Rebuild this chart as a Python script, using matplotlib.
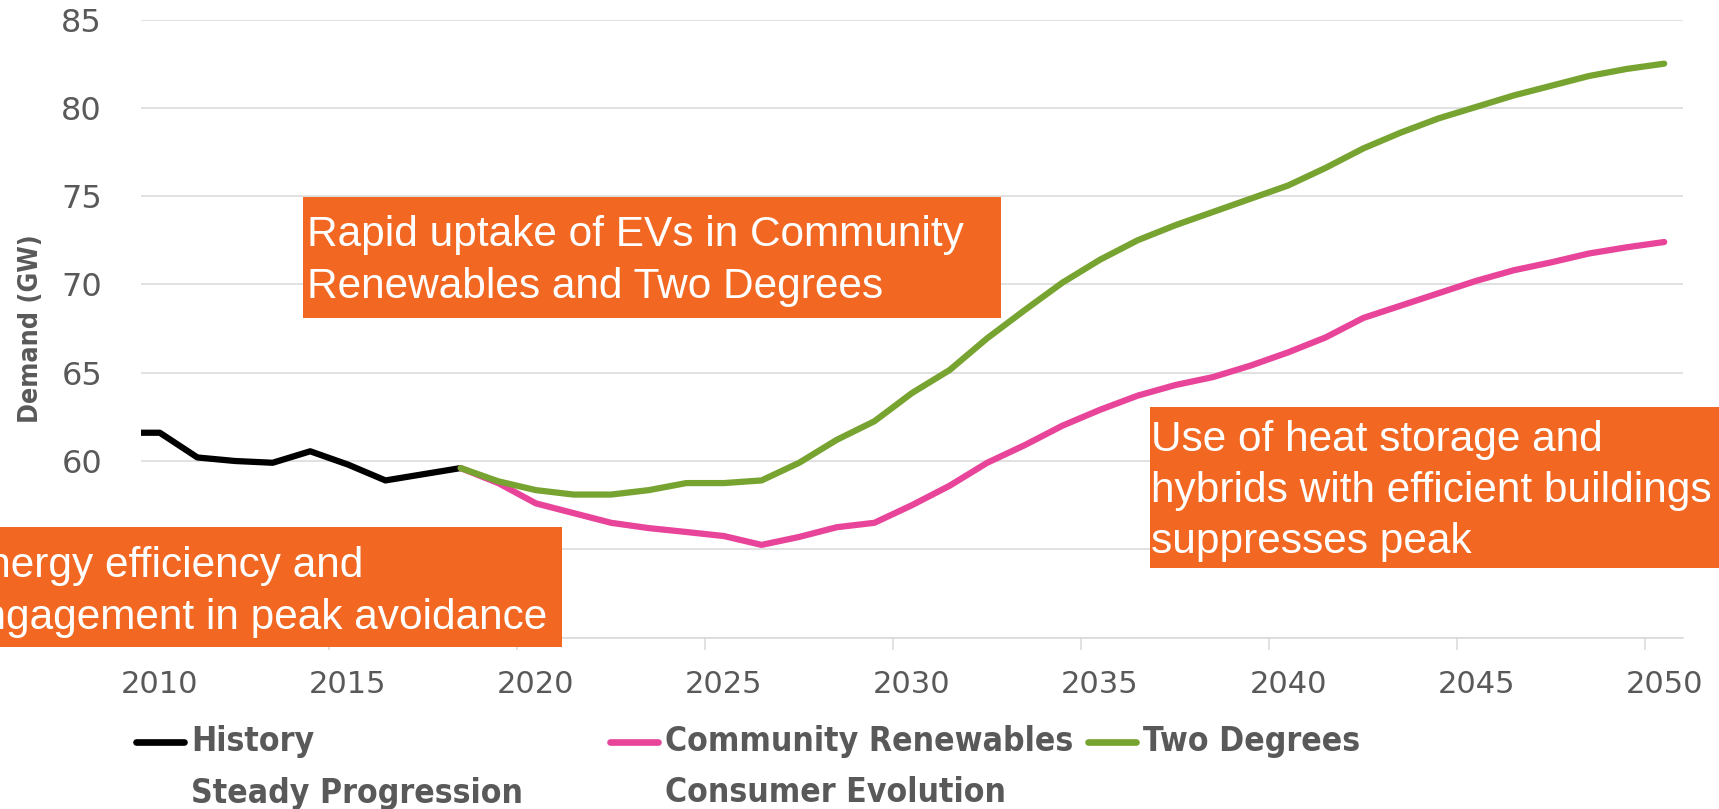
"""Peak electricity demand by scenario, with three call-out boxes."""
import matplotlib
matplotlib.use("Agg")
import matplotlib.pyplot as plt
from matplotlib.patches import Rectangle
from matplotlib.lines import Line2D

# ---- data (GW) ----
hist_years = list(range(2009, 2019))
history = [61.6, 61.6, 60.2, 60.0, 59.9, 60.55, 59.8, 58.9, 59.25, 59.6]

proj_years = list(range(2018, 2051))
community_renewables = [59.6, 58.75, 57.6, 57.05, 56.5, 56.2, 55.98, 55.75, 55.25, 55.7,
                        56.25, 56.5, 57.5, 58.6, 59.9, 60.9, 62.0, 62.9, 63.7, 64.3,
                        64.75, 65.4, 66.15, 67.0, 68.1, 68.8, 69.5, 70.2, 70.8, 71.25,
                        71.75, 72.1, 72.4]
two_degrees = [59.6, 58.85, 58.35, 58.1, 58.1, 58.35, 58.75, 58.75, 58.9, 59.9,
               61.2, 62.25, 63.85, 65.15, 66.95, 68.55, 70.1, 71.4, 72.5, 73.35,
               74.1, 74.85, 75.6, 76.6, 77.7, 78.6, 79.4, 80.05, 80.7, 81.25,
               81.8, 82.2, 82.5]

x_ticks = list(range(2010, 2051, 5))
y_ticks = list(range(50, 86, 5))
y_labels = ["", ""] + [str(v) for v in y_ticks[2:]]   # 50 and 55 sit behind a call-out

C_HIST, C_CR, C_TD = "black", "#E8449A", "#77A330"
C_BOX, C_TXT, C_GRID = "#F26722", "#595959", "#D9D9D9"

W, H = 1719, 809
def fx(x): return x / W
def fy(y): return 1 - y / H

fig = plt.figure(figsize=(W / 100, H / 100), dpi=100)
ax = fig.add_axes([fx(141), fy(637.6), (1683 - 141) / W, (637.6 - 19.5) / H])

lw = 4.5
style = dict(lw=lw, solid_capstyle="round", solid_joinstyle="round")
ax.plot(hist_years, history, color=C_HIST, **style)
ax.plot(proj_years, community_renewables, color=C_CR, **style)
ax.plot(proj_years, two_degrees, color=C_TD, **style)

ax.set_xlim(2009.5, 2050.5)
ax.set_ylim(50, 85)
ax.set_yticks(y_ticks, y_labels)
ax.set_xticks(x_ticks)
ax.set_xticks([t - 0.5 for t in x_ticks[1:]], minor=True)
ax.tick_params(axis="x", which="major", length=0, pad=23, labelsize=22, labelcolor=C_TXT)
ax.tick_params(axis="x", which="minor", length=8.6, width=1.1, color=C_GRID)
ax.tick_params(axis="y", length=0, pad=28, labelsize=23, labelcolor=C_TXT)
ax.grid(axis="y", color=C_GRID, lw=1.1)
ax.set_axisbelow(True)
for s in ("top", "right", "left"):
    ax.spines[s].set_visible(False)
ax.spines["bottom"].set_color(C_GRID)
ax.spines["bottom"].set_linewidth(1.1)

fig.text(fx(31), fy(329), "Demand (GW)", rotation=90, ha="center", va="center",
         fontsize=19.3, weight="bold", fontstretch="condensed", color=C_TXT)

# ---- call-out boxes (pixel layout) ----
def callout(x0, y0, x1, y1):
    fig.add_artist(Rectangle((fx(x0), fy(y1)), (x1 - x0) / W, (y1 - y0) / H,
                             transform=fig.transFigure, fc=C_BOX, ec="none", zorder=5))

box_font = dict(family="Liberation Sans", fontsize=30.5, color="white", zorder=6,
                linespacing=1.37)
callout(303, 197, 1001, 318)
fig.text(fx(307), fy(261), "Rapid uptake of EVs in Community\nRenewables and Two Degrees",
         ha="left", va="center", **box_font)
callout(-10, 527, 562, 647)
fig.text(fx(547), fy(592), "Energy efficiency and\nengagement in peak avoidance",
         ha="right", va="center", multialignment="left", **box_font)
callout(1150, 407, 1730, 568)
fig.text(fx(1151), fy(491), "Use of heat storage and\nhybrids with efficient buildings\nsuppresses peak",
         ha="left", va="center", **box_font)

# ---- legend (Excel-style grid) ----
leg_cols = [133, 607, 1085]
leg_rows = [742, 793]
entries = [("History", C_HIST, 0, 0), ("Steady Progression", None, 0, 1),
           ("Community Renewables", C_CR, 1, 0), ("Consumer Evolution", None, 1, 1),
           ("Two Degrees", C_TD, 2, 0)]
for label, color, c, r in entries:
    x, y = leg_cols[c], leg_rows[r]
    if color:
        fig.add_artist(Line2D([fx(x + 3), fx(x + 51)], [fy(y), fy(y)], transform=fig.transFigure,
                              color=color, lw=4.8, solid_capstyle="round"))
    fig.text(fx(x + 58), fy(y), label, ha="left", va="center", fontsize=24.2,
             weight="bold", fontstretch="condensed", color=C_TXT)

fig.savefig("out.png", dpi=100)
